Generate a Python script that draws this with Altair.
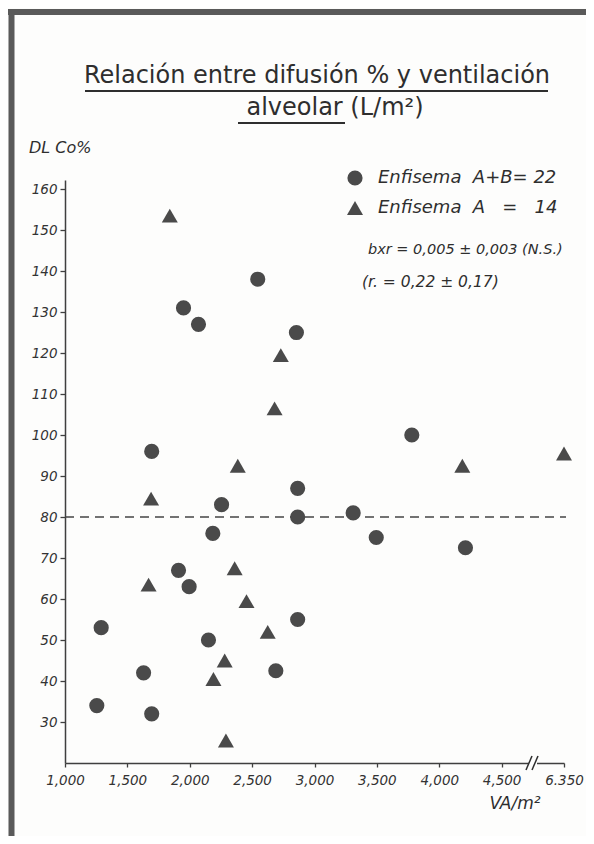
import altair as alt
import pandas as pd

# ---- data ----
circ_va = [2545, 1950, 2070, 2855, 1695, 3780, 2255, 2865, 2865, 2185, 1910,
           1995, 1290, 2150, 1630, 2690, 1255, 1695, 2865, 3310, 3495, 4210]
circ_dl = [138, 131, 127, 125, 96, 100, 83, 87, 80, 76, 67,
           63, 53, 50, 42, 42.5, 34, 32, 55, 81, 75, 72.5]

tri_va = [1840, 2730, 2680, 2385, 4185, 6350, 1690, 1670, 2360, 2455, 2625, 2280, 2190, 2290]
tri_dl = [153.5, 119.5, 106.5, 92.5, 92.5, 95.5, 84.5, 63.5, 67.5, 59.5, 52, 45, 40.5, 25.5]

x_ticks = [1000, 1500, 2000, 2500, 3000, 3500, 4000, 4500, 5000]
y_ticks = [30, 40, 50, 60, 70, 80, 90, 100, 110, 120, 130, 140, 150, 160]
ref_line = [80]

groups = ["Enfisema A+B", "Enfisema A"]

df = pd.DataFrame({
    "va": circ_va + tri_va,
    "dl": circ_dl + tri_dl,
    "grupo": [groups[0]] * len(circ_va) + [groups[1]] * len(tri_va),
})

INK = "#3f3f3f"
FONT = "DejaVu Sans"
W, H = 499, 583
NB = "\u00a0"

xscale = alt.Scale(domain=[1000, 5000], nice=False, zero=False)
yscale = alt.Scale(domain=[20, 162.2], nice=False, zero=False)

points = alt.Chart(df).transform_calculate(
    xpos="datum.va > 4800 ? datum.va - 1350 : datum.va"
).mark_point(filled=True, opacity=1, color="#4a4a4a", strokeWidth=0).encode(
    x=alt.X("xpos:Q", scale=xscale, axis=alt.Axis(
        values=x_ticks, title=None, grid=False,
        labelExpr="datum.value == 5000 ? '6.350' : format(datum.value, ',')",
        domainColor=INK, domainWidth=1.5, tickColor=INK, tickWidth=1.3, tickSize=4,
        labelFont=FONT, labelFontStyle="italic", labelFontSize=13.5, labelColor="#333",
        labelPadding=6, labelFlush=False, labelOverlap=False)),
    y=alt.Y("dl:Q", scale=yscale, axis=alt.Axis(
        values=y_ticks, title=None, grid=False,
        domainColor=INK, domainWidth=1.5, tickColor=INK, tickWidth=1.3, tickSize=5,
        labelFont=FONT, labelFontStyle="italic", labelFontSize=13.5, labelColor="#333",
        labelPadding=3, labelOverlap=False)),
    shape=alt.Shape("grupo:N", scale=alt.Scale(domain=groups, range=["circle", "triangle-up"]), legend=None),
    size=alt.Size("grupo:N", scale=alt.Scale(domain=groups, range=[230, 256]), legend=None),
)

dashed = alt.Chart(pd.DataFrame({"y": ref_line})).mark_rule(
    color="#444", strokeWidth=1.5, strokeDash=[9, 6]
).encode(y=alt.Y("y:Q", scale=yscale), x=alt.value(0), x2=alt.value(W + 2))


def txt(s, x, y, size=16, style="italic", align="left", weight="normal", baseline="middle"):
    return alt.Chart(pd.DataFrame({"t": [s]})).mark_text(
        font=FONT, fontSize=size, fontStyle=style, fontWeight=weight, align=align,
        baseline=baseline, color="#2e2e2e"
    ).encode(x=alt.value(x), y=alt.value(y), text="t:N")


def seg(x1, y1, x2, y2, color="#2e2e2e", w=2):
    return alt.Chart(pd.DataFrame({"a": [0]})).mark_rule(color=color, strokeWidth=w).encode(
        x=alt.value(x1), y=alt.value(y1), x2=alt.value(x2), y2=alt.value(y2))


def sym(shape, x, y, size):
    return alt.Chart(pd.DataFrame({"a": [0]})).mark_point(
        filled=True, opacity=1, color="#4a4a4a", shape=shape, size=size, strokeWidth=0
    ).encode(x=alt.value(x), y=alt.value(y))


layers = [
    # frame
    seg(-57, -168, W + 30, -168, color="#5a5a5a", w=6),
    seg(-53.5, -171, -53.5, 660, color="#5a5a5a", w=6),
    # title
    txt("Relación entre difusión % y ventilación", 252, -104, size=24, style="normal", align="center"),
    seg(20, -89, 483, -89, w=2),
    txt("alveolar (L/m²)", 270, -72, size=24, style="normal", align="center"),
    seg(173, -57, 280, -57, w=2),
    # y axis title
    txt("DL Co%", -36, -32, size=16),
    # legend
    sym("circle", 290, -2, 230),
    txt("Enfisema" + NB * 2 + "A+B=" + NB + "22", 313, -2, size=18),
    sym("triangle-up", 290, 28, 256),
    txt("Enfisema" + NB * 2 + "A" + NB * 3 + "=" + NB * 3 + "14", 313, 28, size=18),
    # statistics
    txt("bxr = 0,005 ± 0,003 (N.S.)", 303, 70, size=14.5),
    txt("(r. = 0,22 ± 0,17)", 297, 102, size=15.5),
    # x axis title
    txt("VA/m²", 450, 624, size=17, align="center"),
    dashed,
    points,
    # axis break
    seg(464, H, 472, H, color="white", w=5),
    seg(461, H + 7, 467, H - 7, w=1.5),
    seg(467, H + 7, 473, H - 7, w=1.5),
]

chart = alt.layer(*layers).properties(
    width=W, height=H,
    autosize=alt.AutoSizeParams(type="none"),
    padding={"left": 57, "top": 172, "right": 22, "bottom": 73},
    background="#fdfdfc",
).configure_view(stroke=None)

chart.save("out.html", embed_options={"renderer": "svg", "actions": False})
